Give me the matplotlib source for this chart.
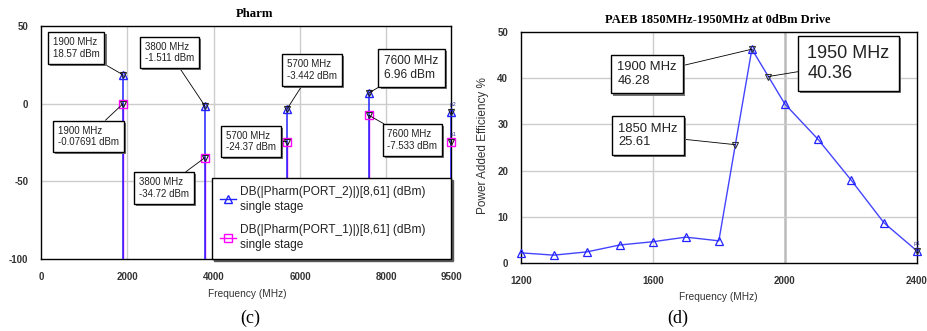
import matplotlib
matplotlib.use('Agg')
import matplotlib.pyplot as plt
import matplotlib.patheffects as pe
from matplotlib.lines import Line2D

plt.rcParams['axes.unicode_minus'] = False

# harmonic spectrum (c)
harm_freq = [1900, 3800, 5700, 7600, 9500]
port2_dbm = [18.57, -1.511, -3.442, 6.96, -5.5]
port1_dbm = [-0.07691, -34.72, -24.37, -7.533, -24.5]
harm_xticks = [0, 2000, 4000, 6000, 8000, 9500]
harm_yticks = [-100, -50, 0, 50]

# PAE sweep (d)
pae_freq = [1200, 1300, 1400, 1500, 1600, 1700, 1800, 1850, 1900, 1950,
            2000, 2100, 2200, 2300, 2400]
pae_pct = [2.2, 1.7, 2.4, 3.9, 4.6, 5.6, 4.8, 25.61, 46.28, 40.36,
           34.4, 26.8, 18.0, 8.7, 2.6]
pae_xticks = [1200, 1600, 2000, 2400]
pae_yticks = [0, 10, 20, 30, 40, 50]

BLUE = '#2222ff'
MAG = '#ff00ff'
SANS = 'Liberation Sans'
SERIF = 'Liberation Serif'

W, H = 928, 331
fig = plt.figure(figsize=(W / 100, H / 100), dpi=100)


def px_axes(x0, y0, x1, y1):
    return fig.add_axes([x0 / W, 1 - y1 / H, (x1 - x0) / W, (y1 - y0) / H])


def style(ax):
    for s in ax.spines.values():
        s.set_color('black')
        s.set_linewidth(1.0)
    ax.tick_params(length=0, pad=9, labelsize=7, labelcolor='#333333')
    for lab in ax.get_xticklabels() + ax.get_yticklabels():
        lab.set_family(SANS)
        lab.set_fontweight('bold')


def note(ax, x, y, txt, pos, size=7):
    t = ax.annotate(txt, xy=(x, y), xytext=pos, textcoords='axes fraction',
                    ha='center', va='center', multialignment='left',
                    fontsize=size, family=SANS, color='#222222',
                    bbox=dict(boxstyle='square,pad=0.5', fc='white', ec='black', lw=1),
                    arrowprops=dict(arrowstyle='-', color='black', lw=0.6,
                                    shrinkA=0, shrinkB=0),
                    zorder=6)
    t.get_bbox_patch().set_path_effects(
        [pe.SimplePatchShadow(offset=(1.5, -1.5), shadow_rgbFace='0.45', alpha=1),
         pe.Normal()])


# ---- left: Pharm ----
ax1 = px_axes(41, 26, 451, 259)
ax1.set_xlim(0, 9500)
ax1.set_ylim(-100, 50)
for g in harm_xticks[1:-1]:
    ax1.axvline(g, color='#cccccc', lw=1, zorder=0)
ax1.axhline(0, color='#cccccc', lw=1, zorder=0)
ax1.axhline(-50, color='#cccccc', lw=1, zorder=0)

ax1.vlines(harm_freq, -100, port1_dbm, color=MAG, lw=1, zorder=2)
ax1.vlines(harm_freq, -100, port2_dbm, color=BLUE, lw=1.1, zorder=3)
ax1.plot(harm_freq, port1_dbm, ls='none', marker='s', ms=6, mfc='none',
         mec=MAG, mew=1, zorder=4, clip_on=False)
ax1.plot(harm_freq, port2_dbm, ls='none', marker='^', ms=6, mfc='none',
         mec=BLUE, mew=1, zorder=4, clip_on=False)
ax1.plot(harm_freq, port2_dbm, ls='none', marker='v', ms=5, mfc='none',
         mec='#222222', mew=0.8, zorder=5, clip_on=False)
ax1.plot(harm_freq, port1_dbm, ls='none', marker='v', ms=5, mfc='none',
         mec='#222222', mew=0.8, zorder=5, clip_on=False)
ax1.text(harm_freq[-1] - 30, port2_dbm[-1] + 4, 'p2', fontsize=4, color='#333399')
ax1.text(harm_freq[-1] - 30, port1_dbm[-1] + 4, 'p1', fontsize=4, color='#333399')

ax1.set_xticks(harm_xticks)
ax1.set_yticks(harm_yticks)
style(ax1)

note(ax1, harm_freq[0], port2_dbm[0], '1900 MHz\n18.57 dBm', (0.086, 0.906))
note(ax1, harm_freq[1], port2_dbm[1], '3800 MHz\n-1.511 dBm', (0.313, 0.886))
note(ax1, harm_freq[2], port2_dbm[2], '5700 MHz\n-3.442 dBm', (0.661, 0.811))
note(ax1, harm_freq[3], port2_dbm[3], '7600 MHz\n6.96 dBm', (0.904, 0.820), size=8.6)
note(ax1, harm_freq[0], port1_dbm[0], '1900 MHz\n-0.07691 dBm', (0.115, 0.526))
note(ax1, harm_freq[2], port1_dbm[2], '5700 MHz\n-24.37 dBm', (0.512, 0.504))
note(ax1, harm_freq[3], port1_dbm[3], '7600 MHz\n-7.533 dBm', (0.906, 0.511))
note(ax1, harm_freq[1], port1_dbm[1], '3800 MHz\n-34.72 dBm', (0.300, 0.305))

handles = [Line2D([], [], color=BLUE, lw=1, marker='^', ms=6, mfc='none', mec=BLUE),
           Line2D([], [], color=MAG, lw=1, marker='s', ms=6, mfc='none', mec=MAG)]
labels = ['DB(|Pharm(PORT_2)|)[8,61] (dBm)\nsingle stage',
          'DB(|Pharm(PORT_1)|)[8,61] (dBm)\nsingle stage']
leg = ax1.legend(handles, labels, loc='lower left', mode='expand',
                 bbox_to_anchor=(0.417, 0.0, 0.583, 0.37), borderaxespad=0,
                 prop={'family': SANS, 'size': 8.6}, fancybox=False,
                 edgecolor='black', framealpha=1, handlelength=1.4,
                 handletextpad=0.3, borderpad=0.65, labelspacing=0.95,
                 shadow={'color': '0.35', 'alpha': 1, 'ox': 1.5, 'oy': -1.5})
leg.get_frame().set_linewidth(1)
leg.set_zorder(7)
for t in leg.get_texts():
    t.set_color('#222222')
    t.set_linespacing(1.35)

fig.text(255 / W, 1 - 14 / H, 'Pharm', ha='center', va='center',
         family=SERIF, fontweight='bold', fontsize=9.2)
fig.text(247 / W, 1 - 294 / H, 'Frequency (MHz)', ha='center', va='center',
         family=SANS, fontsize=7.3, color='#333333')
fig.text(250 / W, 1 - 318 / H, '(c)', ha='center', va='center',
         family=SERIF, fontsize=13)

# ---- right: PAE ----
ax2 = px_axes(520.7, 32, 917, 263)
ax2.set_xlim(1200, 2400)
ax2.set_ylim(0, 50)
ax2.axvline(1600, color='#cccccc', lw=1, zorder=0)
ax2.axvline(2000, color='#bbbbbb', lw=1.8, zorder=0)
for g in pae_yticks[1:-1]:
    ax2.axhline(g, color='#cccccc', lw=1, zorder=0)

step_idx = [i for i, f in enumerate(pae_freq) if f % 100 == 0]
ax2.plot(pae_freq, pae_pct, color='#4444ff', lw=1, marker='^', ms=6,
         mfc='none', mec='#2222ff', mew=0.9, markevery=step_idx,
         zorder=3, clip_on=False)
mk_idx = [pae_freq.index(f) for f in (1850, 1900, 1950, 2400)]
ax2.plot([pae_freq[i] for i in mk_idx], [pae_pct[i] for i in mk_idx],
         ls='none', marker='v', ms=5, mfc='none', mec='#333333', mew=0.8,
         zorder=4, clip_on=False)
ax2.text(pae_freq[-1] - 12, pae_pct[-1] + 1.2, 'p1', fontsize=4, color='#333399')

ax2.set_xticks(pae_xticks)
ax2.set_yticks(pae_yticks)
style(ax2)

note(ax2, 1900, pae_pct[pae_freq.index(1900)], '1900 MHz\n46.28', (0.319, 0.818), size=9.4)
note(ax2, 1950, pae_pct[pae_freq.index(1950)], '1950 MHz\n40.36', (0.827, 0.864), size=13)
note(ax2, 1850, pae_pct[pae_freq.index(1850)], '1850 MHz\n25.61', (0.321, 0.552), size=9.4)

fig.text(718 / W, 1 - 20 / H, 'PAEB 1850MHz-1950MHz at 0dBm Drive', ha='center',
         va='center', family=SERIF, fontweight='bold', fontsize=9)
fig.text(718 / W, 1 - 297 / H, 'Frequency (MHz)', ha='center', va='center',
         family=SANS, fontsize=7.3, color='#333333')
fig.text(483 / W, 1 - 146 / H, 'Power Added Efficiency %', ha='center', va='center',
         rotation=90, family=SANS, fontsize=8.5, color='#333333')
fig.text(678 / W, 1 - 318 / H, '(d)', ha='center', va='center',
         family=SERIF, fontsize=13)

fig.savefig('out.png', dpi=100, facecolor='white')
